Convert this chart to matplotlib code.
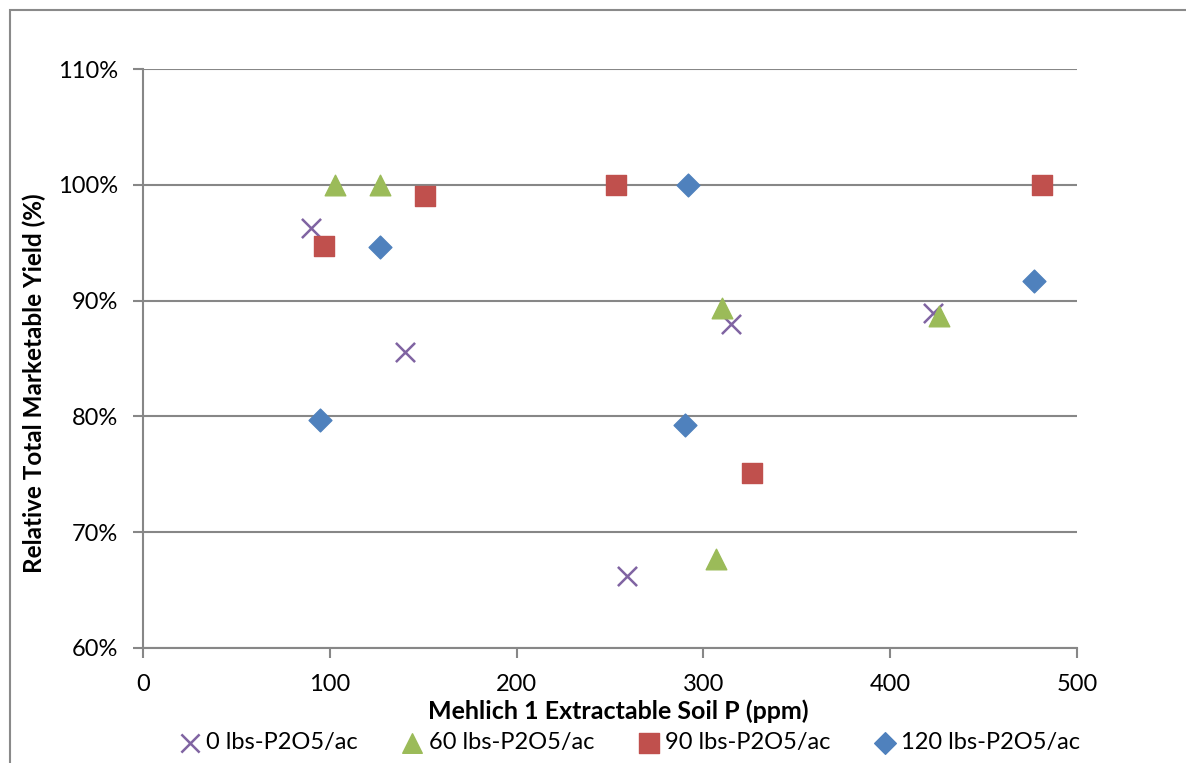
import matplotlib
matplotlib.use("Agg")
import matplotlib.pyplot as plt
from matplotlib.patches import Rectangle
from matplotlib.ticker import FuncFormatter

plt.rcParams['font.family'] = ['Lato', 'DejaVu Sans']

series_names = ["0 lbs-P2O5/ac", "60 lbs-P2O5/ac", "90 lbs-P2O5/ac", "120 lbs-P2O5/ac"]
x0 = [90, 140, 259, 315, 423]
y0 = [96.3, 85.6, 66.2, 88.0, 88.9]
x60 = [103, 127, 310, 307, 426]
y60 = [100, 100, 89.4, 67.7, 88.7]
x90 = [97, 151, 253, 326, 481]
y90 = [94.7, 99.0, 100, 75.1, 100]
x120 = [95, 127, 292, 290, 477]
y120 = [79.7, 94.6, 100, 79.3, 91.7]

x_ticks = [0, 100, 200, 300, 400, 500]
y_ticks = [60, 70, 80, 90, 100, 110]

W, H = 1186, 763
fig = plt.figure(figsize=(W/100, H/100), dpi=100)
ax = fig.add_axes([143/W, 1-648/H, (1077-143)/W, (648-69)/H])

grid_c = '#878787'
ax.scatter(x0, y0, marker='x', s=190, color='#8064A2', linewidths=1.8, zorder=3, label=series_names[0])
ax.scatter(x60, y60, marker='^', s=220, color='#9BBB59', zorder=3, label=series_names[1])
ax.scatter(x90, y90, marker='s', s=215, color='#C0504D', zorder=3, label=series_names[2])
ax.scatter(x120, y120, marker='D', s=135, color='#4F81BD', zorder=3, label=series_names[3])

ax.set_xlim(0, 500)
ax.set_ylim(60, 110)
ax.set_xticks(x_ticks)
ax.set_yticks(y_ticks)
ax.yaxis.set_major_formatter(FuncFormatter(lambda v, p: f"{v:.0f}%"))
ax.grid(axis='y', color=grid_c, linewidth=1.5, zorder=0)
ax.set_axisbelow(True)
for s in ['top', 'right']:
    ax.spines[s].set_visible(False)
for s in ['left', 'bottom']:
    ax.spines[s].set_color(grid_c)
    ax.spines[s].set_linewidth(1.5)
ax.tick_params(axis='both', colors=grid_c, labelcolor='black', labelsize=17, length=7, width=1.5, direction='out')
ax.tick_params(axis='y', pad=11)
ax.tick_params(axis='x', pad=12)

ax.set_xlabel("Mehlich 1 Extractable Soil P (ppm)", fontsize=18, fontweight='bold')
ax.set_ylabel("Relative Total Marketable Yield (%)", fontsize=17.5, fontweight='bold')
ax.yaxis.set_label_coords(-(143-46)/(1077-143), 1-(383-69)/(648-69))
ax.xaxis.set_label_coords((618-143)/(1077-143), -(699-648)/(648-69))

leg = fig.legend(loc='center', bbox_to_anchor=(628/W, 1-743/H), ncol=4, frameon=False,
                 fontsize=17, handletextpad=0.1, columnspacing=1.7, markerscale=0.95,
                 handlelength=1.2)

fig.patches.append(Rectangle((10/W, -0.1), 1.2, 1-10/H+0.1, transform=fig.transFigure,
                             fill=False, edgecolor='#8a8a8a', linewidth=1.5))

fig.savefig("out.png", dpi=100)
